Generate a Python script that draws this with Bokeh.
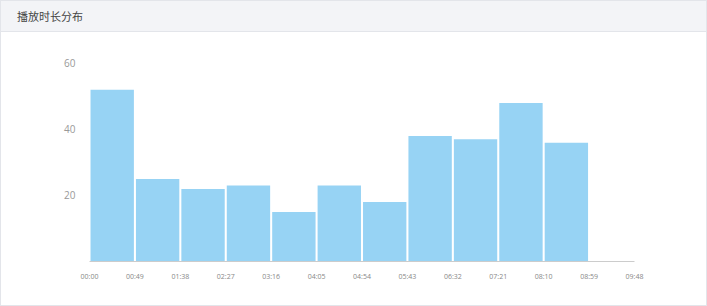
from bokeh.plotting import figure
from bokeh.models import Range1d, FixedTicker, Div
from bokeh.layouts import column
from bokeh.embed import file_html
from bokeh.resources import INLINE

title = "播放时长分布"
bin_seconds = 49
counts = [52, 25, 22, 23, 15, 23, 18, 38, 37, 48, 36, 0]
tick_labels = ["00:00", "00:49", "01:38", "02:27", "03:16", "04:05", "04:54",
               "05:43", "06:32", "07:21", "08:10", "08:59", "09:48"]
y_ticks = [0, 20, 40, 60]
y_tick_labels = ["", "20", "40", "60"]

n = len(counts)
edges = [i * bin_seconds for i in range(n + 1)]
centers = [(edges[i] + edges[i + 1]) / 2 for i in range(n)]

header = Div(text=title, width=705, height=31, margin=0,
             styles={"background-color": "#f3f4f7",
                     "border-bottom": "1px solid #e3e5ea",
                     "box-sizing": "border-box",
                     "padding-left": "16px",
                     "font-family": "Noto Sans CJK SC",
                     "font-size": "11px",
                     "color": "#444444",
                     "line-height": "31px"})

p = figure(width=705, height=273, frame_width=545, frame_height=205,
           min_border_left=88, min_border_right=72, min_border_top=24, min_border_bottom=44,
           x_range=Range1d(0, edges[-1]), y_range=Range1d(0, 62.1),
           output_backend="svg", toolbar_location=None, margin=0)
p.outline_line_color = None
p.background_fill_color = "white"
p.border_fill_color = "white"
p.xgrid.visible = False
p.ygrid.visible = False

p.vbar(x=centers, top=counts, width=bin_seconds * 0.955, bottom=0,
       fill_color="#97d3f4", line_color=None)

p.xaxis.ticker = FixedTicker(ticks=edges)
p.xaxis.major_label_overrides = {e: l for e, l in zip(edges, tick_labels)}
p.xaxis.axis_line_color = "#cccccc"
p.xaxis.major_tick_line_color = None
p.xaxis.minor_tick_line_color = None
p.xaxis.major_label_text_font_size = "7px"
p.xaxis.major_label_text_color = "#888888"
p.xaxis.major_label_standoff = 4
p.xaxis.major_label_text_font = "Open Sans"

p.yaxis.ticker = FixedTicker(ticks=y_ticks)
p.yaxis.major_label_overrides = {t: l for t, l in zip(y_ticks, y_tick_labels)}
p.yaxis.axis_line_color = None
p.yaxis.major_tick_line_color = None
p.yaxis.minor_tick_line_color = None
p.yaxis.major_label_text_font_size = "10px"
p.yaxis.major_label_text_color = "#999999"
p.yaxis.major_label_standoff = 8
p.yaxis.major_label_text_font = "Open Sans"

layout = column(header, p, spacing=0, margin=0,
                styles={"border": "1px solid #e3e5ea", "background-color": "white"})

open("out.html", "w").write(file_html(layout, INLINE))
